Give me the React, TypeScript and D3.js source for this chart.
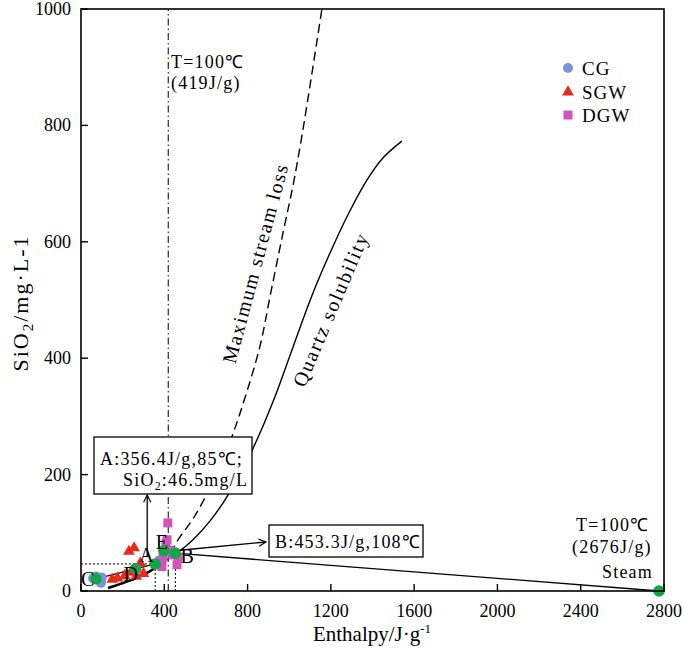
import React from "react";
import * as d3 from "d3";

const W = 685;
const H = 648;

// Data (enthalpy J/g, SiO2 mg/L)
const quartzCurve: [number, number][] = [
  [130, 5], [250, 20], [317, 31], [379, 46], [461, 65], [538, 88], [619, 120],
  [715, 170], [826, 245], [922, 325], [1018, 419], [1114, 512], [1210, 592],
  [1290, 652], [1373, 706], [1450, 744], [1541, 773],
];
const steamLossCurve: [number, number][] = [
  [130, 5], [250, 20], [317, 31], [379, 48], [427, 65], [470, 90], [545, 128],
  [634, 188], [715, 256], [775, 318], [859, 420], [910, 510], [970, 615],
  [1020, 700], [1060, 780], [1105, 880], [1157, 1000],
];
const cgPoints: [number, number][] = [[58, 22], [72, 25], [90, 18], [96, 14], [100, 23]];
const sgwPoints: [number, number][] = [
  [230, 68], [255, 74], [150, 20], [175, 22], [210, 26], [265, 25], [285, 48], [300, 30], [240, 32],
];
const dgwPoints: [number, number][] = [
  [417, 117], [408, 82], [394, 58], [380, 52], [427, 70], [466, 58], [461, 45], [389, 42], [413, 88], [440, 62],
];
const keyPoints: { name: string; h: number; s: number }[] = [
  { name: "C", h: 72, s: 21 },
  { name: "D", h: 262, s: 38 },
  { name: "A", h: 356.4, s: 46.5 },
  { name: "E", h: 398, s: 69 },
  { name: "B", h: 453.3, s: 65 },
  { name: "Steam", h: 2776, s: 0 },
];
const xTicks = [0, 400, 800, 1200, 1600, 2000, 2400, 2800];
const yTicks = [0, 200, 400, 600, 800, 1000];
const tLine = 419;

const FONT = "'Liberation Serif', 'Times New Roman', serif";

export default function App() {
  const x = d3.scaleLinear().domain([0, 2800]).range([81, 664]);
  const y = d3.scaleLinear().domain([0, 1000]).range([591, 9]);
  const line = d3
    .line<[number, number]>()
    .x((d) => x(d[0]))
    .y((d) => y(d[1]))
    .curve(d3.curveCatmullRom.alpha(0.5));

  const kp = (n: string) => keyPoints.find((k) => k.name === n)!;
  const A = kp("A"), B = kp("B"), C = kp("C"), S = kp("Steam");
  const tri = d3.symbol().type(d3.symbolTriangle).size(60)();
  const blue = "#7b93d8";
  const red = "#e8291c";
  const mag = "#cf55bd";
  const green = "#12a64a";
  const ls = 1.2;

  return (
    <svg width={W} height={H} style={{ position: "absolute", left: 0, top: 0, background: "#fff" }} fontFamily={FONT}>
      <defs>
        <marker id="arr" viewBox="0 0 10 10" refX="9" refY="5" markerWidth="9" markerHeight="9" orient="auto" markerUnits="userSpaceOnUse">
          <path d="M1,1 L9,5 L1,9" fill="none" stroke="#000" strokeWidth="1.3" />
        </marker>
      </defs>

      {/* T=100 vertical dash-dot */}
      <line x1={x(tLine)} x2={x(tLine)} y1={y(0)} y2={y(1000)} stroke="#000" strokeWidth={1} strokeDasharray="7,3,1.5,3" />

      {/* dotted reference lines */}
      <line x1={x(0)} x2={x(A.h)} y1={y(A.s)} y2={y(A.s)} stroke="#000" strokeWidth={1} strokeDasharray="2,2" />
      <line x1={x(A.h)} x2={x(A.h)} y1={y(0)} y2={y(A.s)} stroke="#000" strokeWidth={1} strokeDasharray="2,2" />
      <line x1={x(B.h)} x2={x(B.h)} y1={y(0)} y2={y(B.s)} stroke="#000" strokeWidth={1} strokeDasharray="2,2" />

      {/* curves */}
      <path d={line(quartzCurve) || ""} fill="none" stroke="#000" strokeWidth={1.4} />
      <path d={line(steamLossCurve.filter((d) => d[0] >= 379)) || ""} fill="none" stroke="#000" strokeWidth={1.4} strokeDasharray="9,5" />
      <path d={line(quartzCurve.filter((d) => d[0] <= 379)) || ""} fill="none" stroke="#000" strokeWidth={2.6} />

      {/* mixing lines */}
      <line x1={x(C.h)} y1={y(C.s)} x2={x(A.h)} y2={y(A.s)} stroke="#000" strokeWidth={1.3} />
      <line x1={x(B.h)} y1={y(B.s)} x2={x(S.h)} y2={y(S.s)} stroke="#000" strokeWidth={1.3} />

      {/* scatter */}
      {cgPoints.map((d, i) => (
        <circle key={"c" + i} cx={x(d[0])} cy={y(d[1])} r={5} fill={blue} />
      ))}
      {sgwPoints.map((d, i) => (
        <path key={"t" + i} d={tri || ""} transform={`translate(${x(d[0])},${y(d[1])})`} fill={red} />
      ))}
      {dgwPoints.map((d, i) => (
        <rect key={"s" + i} x={x(d[0]) - 4.5} y={y(d[1]) - 4.5} width={9} height={9} fill={mag} />
      ))}
      {keyPoints.map((k) => (
        <circle key={k.name} cx={x(k.h)} cy={y(k.s)} r={5.8} fill={green} />
      ))}

      {/* point labels */}
      <g fontSize={20}>
        <text x={x(C.h) - 15} y={y(C.s) + 7}>C</text>
        <text x={x(kp("D").h) - 12} y={y(kp("D").s) + 12}>D</text>
        <text x={x(A.h) - 16} y={y(A.s) - 2}>A</text>
        <text x={x(kp("E").h) - 8} y={y(kp("E").s) - 2}>E</text>
        <text x={x(B.h) + 5} y={y(B.s) + 10}>B</text>
      </g>

      {/* annotation arrows */}
      <line x1={x(318)} y1={y(58)} x2={x(318)} y2={495} stroke="#000" strokeWidth={1.3} markerEnd="url(#arr)" />
      <line x1={x(475)} y1={y(70)} x2={266} y2={542} stroke="#000" strokeWidth={1.3} markerEnd="url(#arr)" />

      {/* annotation boxes */}
      <rect x={94} y={437} width={158} height={57} fill="#fff" stroke="#000" strokeWidth={1.3} />
      <text x={100} y={465} fontSize={18} letterSpacing={ls}>A:356.4J/g,85℃;</text>
      <text x={123} y={486} fontSize={18} letterSpacing={ls}>
        SiO<tspan fontSize={12} dy={4}>2</tspan><tspan dy={-4}>:46.5mg/L</tspan>
      </text>
      <rect x={269} y={525} width={154} height={32} fill="#fff" stroke="#000" strokeWidth={1.3} />
      <text x={275} y={548} fontSize={18} letterSpacing={ls}>B:453.3J/g,108℃</text>

      {/* text labels */}
      <text x={171} y={68} fontSize={18} letterSpacing={ls}>T=100℃</text>
      <text x={171} y={89} fontSize={18} letterSpacing={ls}>(419J/g)</text>
      <text x={576} y={531} fontSize={18} letterSpacing={ls}>T=100℃</text>
      <text x={572} y={553} fontSize={18} letterSpacing={ls}>(2676J/g)</text>
      <text x={653} y={578} fontSize={18} textAnchor="end" letterSpacing={ls}>Steam</text>

      <text transform="translate(262,265) rotate(-75)" fontSize={20} letterSpacing={1.5} textAnchor="middle">Maximum stream loss</text>
      <text transform="translate(337,312) rotate(-67)" fontSize={20} letterSpacing={1.8} textAnchor="middle">Quartz solubility</text>

      {/* legend */}
      <circle cx={568} cy={68} r={5} fill={blue} />
      <text x={582} y={75} fontSize={19} letterSpacing={1}>CG</text>
      <path d={tri || ""} transform="translate(568,92)" fill={red} />
      <text x={582} y={99} fontSize={19} letterSpacing={1}>SGW</text>
      <rect x={563.5} y={110.5} width={9} height={9} fill={mag} />
      <text x={582} y={122} fontSize={19} letterSpacing={1}>DGW</text>

      {/* frame & axes */}
      <rect x={x(0)} y={y(1000)} width={x(2800) - x(0)} height={y(0) - y(1000)} fill="none" stroke="#000" strokeWidth={1.6} />
      {xTicks.map((t) => (
        <g key={"xt" + t}>
          <line x1={x(t)} x2={x(t)} y1={y(0)} y2={y(0) - 7} stroke="#000" strokeWidth={1.4} />
          <text x={x(t)} y={617} fontSize={18} textAnchor="middle">{t}</text>
        </g>
      ))}
      {yTicks.map((t) => (
        <g key={"yt" + t}>
          <line x1={x(0)} x2={x(0) + 7} y1={y(t)} y2={y(t)} stroke="#000" strokeWidth={1.4} />
          <text x={71} y={y(t) + 6} fontSize={18} textAnchor="end">{t}</text>
        </g>
      ))}
      <text x={372} y={641} fontSize={21} textAnchor="middle">
        Enthalpy/J·g<tspan fontSize={13} dy={-8}>-1</tspan>
      </text>
      <text transform="translate(28,303) rotate(-90)" fontSize={22} letterSpacing={2} textAnchor="middle">
        SiO<tspan fontSize={15} dy={5}>2</tspan><tspan dy={-5}>/mg·L-1</tspan>
      </text>
    </svg>
  );
}
